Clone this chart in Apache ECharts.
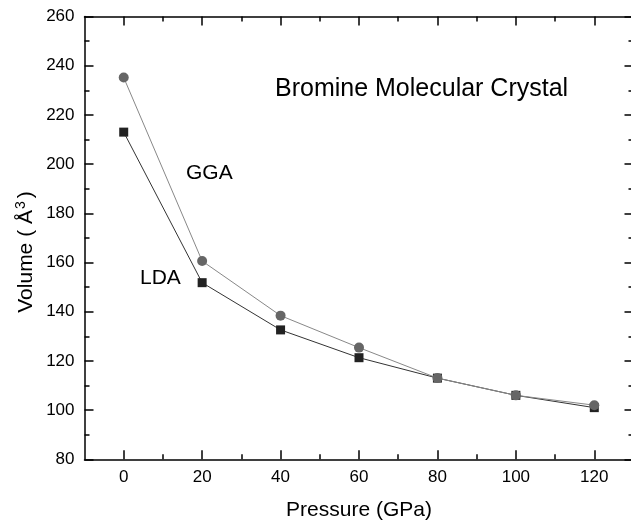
<!DOCTYPE html>
<html>
<head>
<meta charset="utf-8">
<script src="https://cdn.jsdelivr.net/npm/echarts@6/dist/echarts.min.js"></script>
<style>html,body{margin:0;padding:0;background:#fff;}#c{width:631px;height:522px;}</style>
</head>
<body>
<div id="c"></div>
<script>
var pressures = [0, 20, 40, 60, 80, 100, 120];
var ggaVolume = [235.2, 160.6, 138.4, 125.4, 113.0, 106.0, 102.0];
var ldaVolume = [213.0, 151.8, 132.6, 121.3, 113.0, 106.0, 101.0];
var xMajorTicks = [0, 20, 40, 60, 80, 100, 120];
var xMinorTicks = [10, 30, 50, 70, 90, 110];
var yTicks = [80, 100, 120, 140, 160, 180, 200, 220, 240, 260];

var FONT = '"Liberation Sans", Arial, Helvetica, sans-serif';
var chart = echarts.init(document.getElementById('c'), null, {renderer: 'canvas'});

function xAx(pos, ticks, len, showLine, showLabel, extra) {
  var a = {
    type: 'value', gridIndex: 0, position: pos, min: -10, max: 130,
    axisLine: {show: showLine, onZero: false, lineStyle: {color: '#000', width: 1.5}},
    axisTick: {show: true, inside: true, length: len, customValues: ticks, lineStyle: {color: '#000', width: 1.5}},
    axisLabel: {show: showLabel, customValues: ticks, color: '#000', fontSize: 17, fontFamily: FONT, margin: 10},
    splitLine: {show: false}
  };
  if (extra) for (var k in extra) a[k] = extra[k];
  return a;
}
function yAx(pos, showLabel, extra) {
  var a = {
    type: 'value', gridIndex: 0, position: pos, min: yTicks[0], max: yTicks[yTicks.length - 1], interval: 20,
    axisLine: {show: true, onZero: false, lineStyle: {color: '#000', width: 1.5}},
    axisTick: {show: true, inside: true, length: 9, lineStyle: {color: '#000', width: 1.5}},
    minorTick: {show: true, splitNumber: 2, length: 5, lineStyle: {color: '#000', width: 1.5}},
    axisLabel: {show: showLabel, color: '#000', fontSize: 17, fontFamily: FONT, margin: 10},
    splitLine: {show: false}
  };
  if (extra) for (var k in extra) a[k] = extra[k];
  return a;
}

var option = {
  backgroundColor: '#fff',
  animation: false,
  grid: {left: 84.5, top: 16.5, width: 549, height: 442.8, containLabel: false, outerBoundsMode: 'none'},
  xAxis: [
    xAx('bottom', xMajorTicks, 9, true, true, {
      name: 'Pressure (GPa)', nameLocation: 'middle', nameGap: 40,
      nameTextStyle: {color: '#000', fontSize: 21, fontFamily: FONT}
    }),
    xAx('bottom', xMinorTicks, 5, false, false),
    xAx('top', xMajorTicks, 9, true, false),
    xAx('top', xMinorTicks, 5, false, false)
  ],
  yAxis: [
    yAx('left', true),
    yAx('right', false)
  ],
  series: [
    {
      name: 'LDA', type: 'line', xAxisIndex: 0, yAxisIndex: 0,
      data: pressures.map(function (p, i) { return [p, ldaVolume[i]]; }),
      symbol: 'rect', symbolSize: 9,
      itemStyle: {color: '#222'},
      lineStyle: {color: '#333', width: 1}
    },
    {
      name: 'GGA', type: 'line', xAxisIndex: 0, yAxisIndex: 0,
      data: pressures.map(function (p, i) { return [p, ggaVolume[i]]; }),
      symbol: 'circle', symbolSize: 10,
      itemStyle: {color: '#666'},
      lineStyle: {color: '#888', width: 1}
    }
  ],
  graphic: [
    {type: 'text', left: 275, top: 77, style: {text: 'Bromine Molecular Crystal', fill: '#000', font: '25px ' + FONT}},
    {type: 'text', left: 186, top: 163, style: {text: 'GGA', fill: '#000', font: '21px ' + FONT}},
    {type: 'text', left: 140, top: 268, style: {text: 'LDA', fill: '#000', font: '21px ' + FONT}},
    {type: 'text', x: 26, y: 252, rotation: Math.PI / 2,
      style: {text: 'Volume ( Å{s|3})', fill: '#000', font: '21px ' + FONT, align: 'center', verticalAlign: 'middle',
        rich: {s: {fontSize: 14, fontFamily: FONT, fill: '#000', verticalAlign: 'top', padding: [0, 3, 9, 1]}}}}
  ]
};
chart.setOption(option);
</script>
</body>
</html>
